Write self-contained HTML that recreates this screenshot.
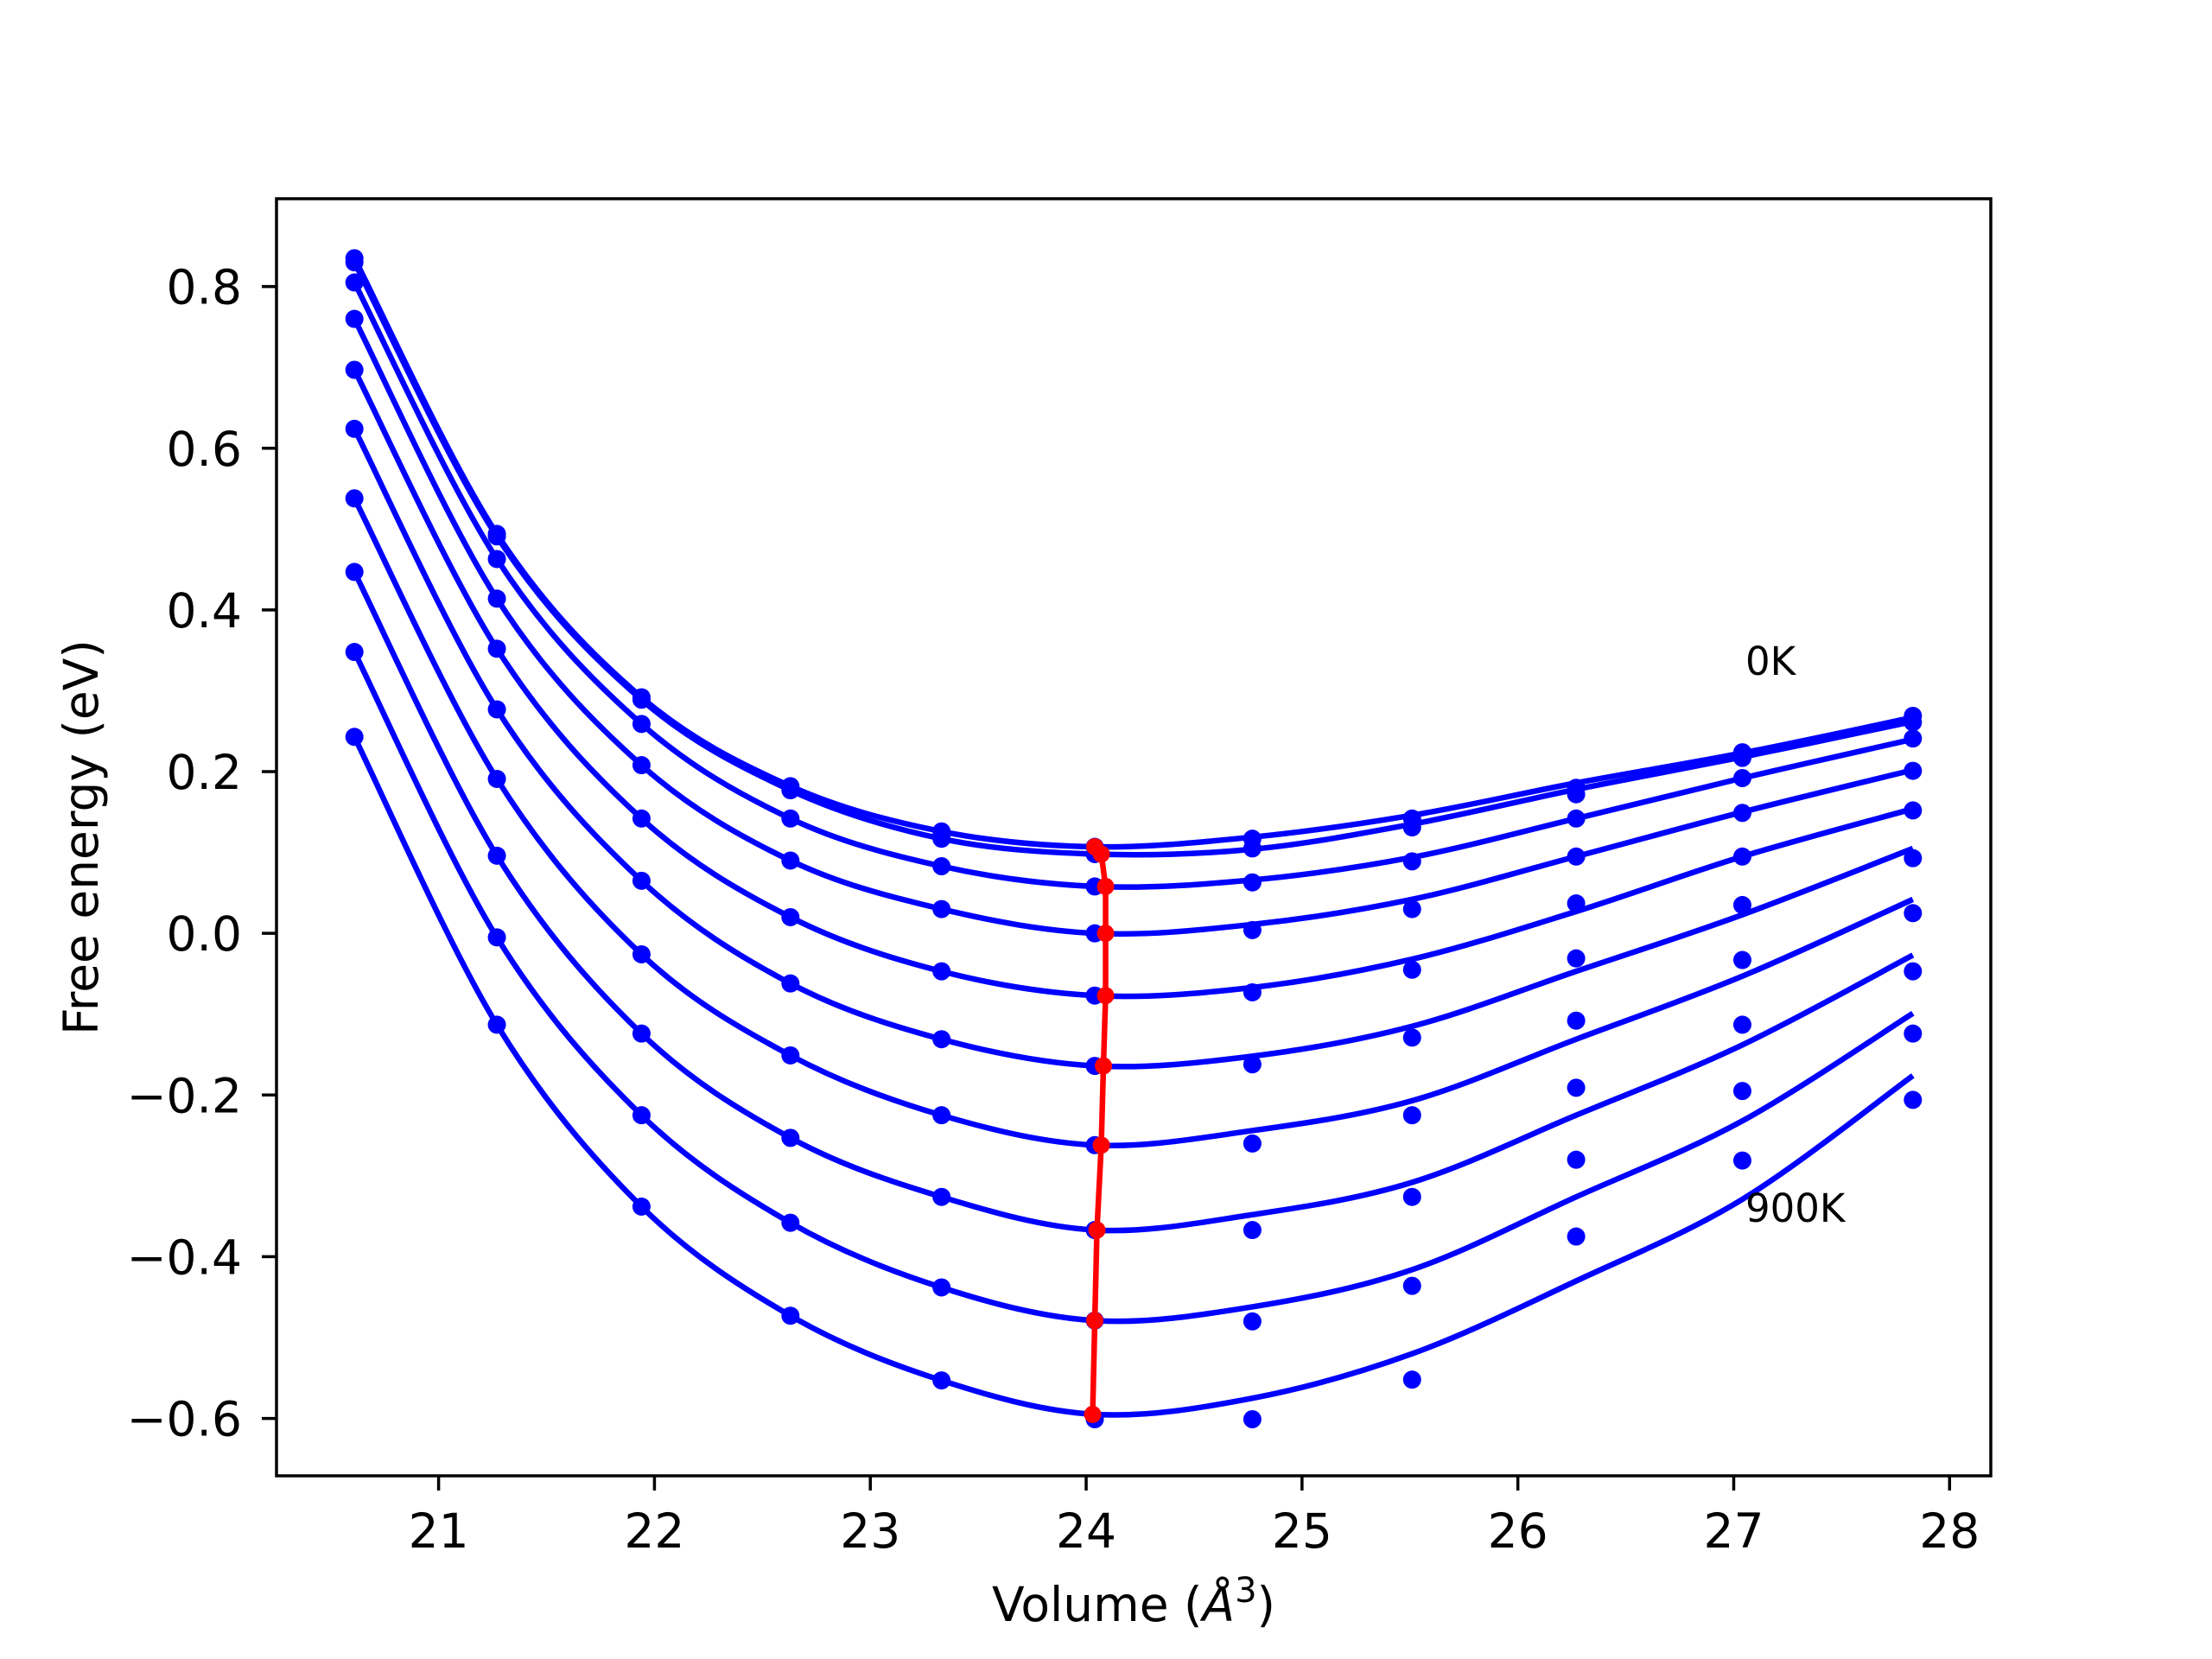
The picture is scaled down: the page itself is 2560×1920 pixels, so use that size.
<!DOCTYPE html>
<html><head><meta charset="utf-8"><style>
html,body{margin:0;padding:0;background:#fff;}
svg{display:block;font-family:"DejaVu Sans","Liberation Sans",sans-serif;}
</style></head><body>
<svg id="chart" width="2560" height="1920" viewBox="0 0 2560 1920" xmlns="http://www.w3.org/2000/svg">
<rect x="0" y="0" width="2560" height="1920" fill="#fff"/>
<g id="plot"></g>
<g id="axes"></g>
</svg>
<script>
const volumes = [20.61, 21.27, 21.94, 22.63, 23.33, 24.04, 24.77, 25.51, 26.27, 27.04, 27.83];
const seriesPoints = [
  [0.835, 0.494, 0.292, 0.182, 0.126, 0.107, 0.117, 0.142, 0.180, 0.224, 0.269],
  [0.830, 0.491, 0.289, 0.177, 0.117, 0.098, 0.105, 0.131, 0.172, 0.217, 0.261],
  [0.805, 0.463, 0.259, 0.142, 0.083, 0.058, 0.063, 0.089, 0.142, 0.192, 0.241],
  [0.760, 0.414, 0.208, 0.090, 0.030, 0.000, 0.004, 0.030, 0.095, 0.149, 0.201],
  [0.697, 0.352, 0.142, 0.020, -0.047, -0.077, -0.073, -0.045, 0.037, 0.095, 0.152],
  [0.624, 0.277, 0.065, -0.062, -0.131, -0.164, -0.162, -0.129, -0.031, 0.035, 0.093],
  [0.538, 0.191, -0.026, -0.151, -0.225, -0.262, -0.260, -0.225, -0.108, -0.033, 0.025],
  [0.447, 0.096, -0.124, -0.253, -0.326, -0.367, -0.367, -0.326, -0.191, -0.113, -0.047],
  [0.348, -0.005, -0.225, -0.358, -0.438, -0.479, -0.480, -0.436, -0.280, -0.195, -0.124],
  [0.243, -0.113, -0.338, -0.473, -0.553, -0.601, -0.601, -0.552, -0.375, -0.281, -0.206]
];
const seriesFit = [
  [0.835, 0.494, 0.292, 0.182, 0.126, 0.107, 0.119, 0.146, 0.186, 0.223, 0.267],
  [0.830, 0.491, 0.289, 0.177, 0.117, 0.098, 0.104, 0.135, 0.178, 0.218, 0.262],
  [0.805, 0.463, 0.259, 0.142, 0.083, 0.058, 0.066, 0.094, 0.142, 0.192, 0.240],
  [0.760, 0.414, 0.208, 0.090, 0.030, 0.000, 0.011, 0.042, 0.095, 0.150, 0.202],
  [0.697, 0.352, 0.142, 0.020, -0.047, -0.077, -0.067, -0.032, 0.027, 0.095, 0.154],
  [0.624, 0.277, 0.065, -0.062, -0.131, -0.164, -0.152, -0.115, -0.047, 0.023, 0.105],
  [0.538, 0.191, -0.026, -0.151, -0.225, -0.262, -0.244, -0.207, -0.131, -0.053, 0.042],
  [0.447, 0.096, -0.124, -0.253, -0.326, -0.367, -0.348, -0.308, -0.225, -0.138, -0.027],
  [0.348, -0.005, -0.225, -0.358, -0.438, -0.479, -0.462, -0.416, -0.326, -0.232, -0.099],
  [0.243, -0.113, -0.338, -0.473, -0.553, -0.595, -0.575, -0.520, -0.430, -0.329, -0.176]
];
const minVolumes = [24.04, 24.07, 24.09, 24.09, 24.09, 24.08, 24.07, 24.05, 24.04, 24.03];
const minEnergies = [0.107, 0.098, 0.058, 0.000, -0.077, -0.164, -0.262, -0.367, -0.479, -0.595];
const xTicks = [21, 22, 23, 24, 25, 26, 27, 28];
const yTicks = [-0.6, -0.4, -0.2, 0.0, 0.2, 0.4, 0.6, 0.8];
const yTickLabels = ["\u22120.6", "\u22120.4", "\u22120.2", "0.0", "0.2", "0.4", "0.6", "0.8"];

const L = 320, R = 2304, T = 230, B = 1708;
const xMin = 20.249, xMax = 28.191, yMin = -0.671, yMax = 0.9086;
const sx = v => L + (v - xMin) / (xMax - xMin) * (R - L);
const sy = v => B - (v - yMin) / (yMax - yMin) * (B - T);
const NS = "http://www.w3.org/2000/svg";
function mk(tag, attrs, parent) {
  const e = document.createElementNS(NS, tag);
  for (const k in attrs) e.setAttribute(k, attrs[k]);
  parent.appendChild(e);
  return e;
}
const plot = document.getElementById('plot');
const axes = document.getElementById('axes');

function smoothPath(xs, ys) {
  const P = xs.map((x, i) => [sx(x), sy(ys[i])]);
  let d = `M${P[0][0]},${P[0][1]}`;
  for (let i = 0; i < P.length - 1; i++) {
    const p0 = P[Math.max(0, i - 1)], p1 = P[i], p2 = P[i + 1], p3 = P[Math.min(P.length - 1, i + 2)];
    const c1 = [p1[0] + (p2[0] - p0[0]) / 6, p1[1] + (p2[1] - p0[1]) / 6];
    const c2 = [p2[0] - (p3[0] - p1[0]) / 6, p2[1] - (p3[1] - p1[1]) / 6];
    d += ` C${c1[0]},${c1[1]} ${c2[0]},${c2[1]} ${p2[0]},${p2[1]}`;
  }
  return d;
}

seriesFit.forEach((vals, si) => {
  const p = mk('path', {d: smoothPath(volumes, vals), fill: 'none', stroke: '#0000ff', 'stroke-width': 6.5, 'stroke-linejoin': 'round'}, plot);
  
  
});
seriesPoints.forEach((vals, si) => {
  vals.forEach((v, i) => {
    const c = mk('circle', {cx: sx(volumes[i]), cy: sy(v), r: 10.5, fill: '#0000ff'}, plot);
    
    
  });
});
const redD = minVolumes.map((v, i) => (i ? 'L' : 'M') + sx(v) + ',' + sy(minEnergies[i])).join(' ');
const redLine = mk('path', {d: redD, fill: 'none', stroke: '#ff0000', 'stroke-width': 6.5, 'stroke-linejoin': 'round'}, plot);


minVolumes.forEach((v, i) => {
  const c = mk('circle', {cx: sx(v), cy: sy(minEnergies[i]), r: 10, fill: '#ff0000'}, plot);
  
  
});

const lab0 = mk('text', {x: 2020, y: 781, 'font-size': 45, fill: '#000'}, plot);
lab0.textContent = '0K';


const lab9 = mk('text', {x: 2020, y: 1414, 'font-size': 45, fill: '#000'}, plot);
lab9.textContent = '900K';



const frame = mk('rect', {x: L, y: T, width: R - L, height: B - T, fill: 'none', stroke: '#000', 'stroke-width': 3.5}, axes);



xTicks.forEach(t => {
  const x = sx(t);
  const tk = mk('line', {x1: x, x2: x, y1: B, y2: B + 17, stroke: '#000', 'stroke-width': 3.5}, axes);
  
  
  const tx = mk('text', {x: x, y: 1791, 'font-size': 55, 'text-anchor': 'middle', fill: '#000'}, axes);
  tx.textContent = String(t);
  
  
});
yTicks.forEach((t, i) => {
  const y = sy(t);
  const tk = mk('line', {x1: L - 17, x2: L, y1: y, y2: y, stroke: '#000', 'stroke-width': 3.5}, axes);
  
  
  const tx = mk('text', {x: 280, y: y + 20, 'font-size': 55, 'text-anchor': 'end', fill: '#000'}, axes);
  tx.textContent = yTickLabels[i];
  
  
});
</script>
<svg style="position:absolute;left:0;top:0;font-family:'DejaVu Sans','Liberation Sans',sans-serif" width="2560" height="1920">
<text x="1312" y="1876" font-size="55" text-anchor="middle">Volume (<tspan font-style="italic">Å</tspan><tspan font-size="40" dy="-22">3</tspan><tspan dy="22">)</tspan></text>
<text transform="translate(113,969) rotate(-90)" font-size="55" text-anchor="middle">Free energy (eV)</text>
</svg>
</body></html>
